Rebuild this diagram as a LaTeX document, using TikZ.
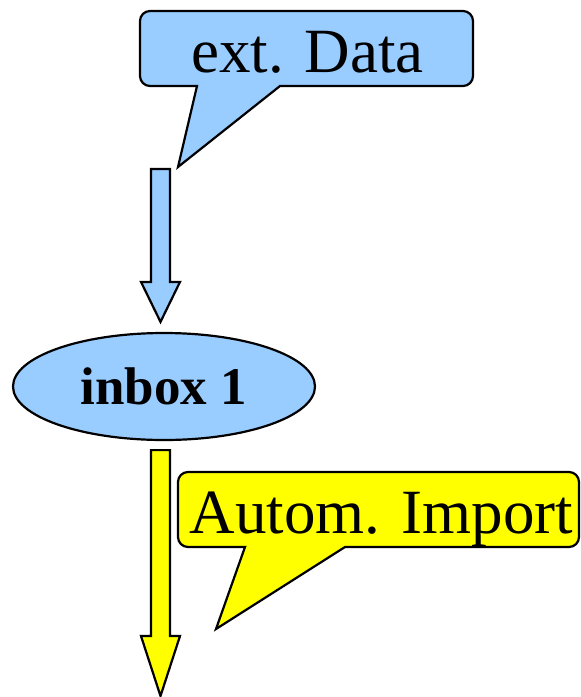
\documentclass[tikz,border=0pt]{standalone}
\usepackage{fontspec}
\setmainfont{Liberation Serif}
\usepackage{tikz}
\usetikzlibrary{calc,shapes.geometric}
\definecolor{skyblue}{HTML}{99CCFF}
\definecolor{importyellow}{RGB}{255,255,0}

\begin{document}
\begin{tikzpicture}[x=0.5pt,y=-0.5pt,
	outline/.style={draw=black,line width=1.1pt,line join=miter},
	bubbletext/.style={anchor=base,inner sep=0pt,font=\fontsize{31.5pt}{36pt}\selectfont},
	inboxnode/.style={outline,ellipse,fill=skyblue,inner sep=0pt,minimum width=151pt,minimum height=53.5pt,font=\fontsize{26.5pt}{30pt}\selectfont\bfseries}]
					\useasboundingbox (0,0) rectangle (581,697);
					%\draw[help lines] (0,0) grid[step=50] (581,697);
					%EXT. DATA
					\coordinate (datatip) at (178,167);
					\filldraw[outline,fill=skyblue] (306,11) [rounded corners=5pt] -- (473,11) -- (473,86) -- (300,86) [sharp corners] -- (280,86) -- (datatip) -- (197,86) -- (170,86) [rounded corners=5pt] -- (140,86) -- (140,11) -- cycle;
					\node[bubbletext] (extdata) at (307.5,72) {ext. Data};
					%INBOX 1
					\node[inboxnode] (inbox) at (164,386.5) {inbox 1};
					%ARROW DATA -> INBOX
					\coordinate (a1) at (160.5,169);
					\coordinate (a2) at ($(inbox.north)+(-3.5,-10)$);
					\filldraw[outline,fill=skyblue] ($(a1)+(-9.5,0)$) -- ($(a2)+(-9.5,-40)$) -- ($(a2)+(-19.5,-40)$) -- (a2) -- ($(a2)+(19.5,-40)$) -- ($(a2)+(9.5,-40)$) -- ($(a1)+(9.5,0)$) -- cycle;
					%ARROW INBOX -> DOWN
					\coordinate (b1) at ($(inbox.south)+(-3.5,9)$);
					\coordinate (b2) at (160.5,696);
					\filldraw[outline,fill=importyellow] ($(b1)+(-9.5,0)$) -- ($(b2)+(-9.5,-60)$) -- ($(b2)+(-19.5,-60)$) -- (b2) -- ($(b2)+(19.5,-60)$) -- ($(b2)+(9.5,-60)$) -- ($(b1)+(9.5,0)$) -- cycle;
					%AUTOM. IMPORT
					\coordinate (importtip) at (216,629);
					\filldraw[outline,fill=importyellow] (379,472) [rounded corners=5pt] -- (579,472) -- (579,547) -- (365,547) [sharp corners] -- (345,547) -- (importtip) -- (245,547) -- (215,547) [rounded corners=5pt] -- (178,547) -- (178,472) -- cycle;
					\node[bubbletext] (import) at (381.5,533) {Autom. Import};
\end{tikzpicture}
\end{document}
